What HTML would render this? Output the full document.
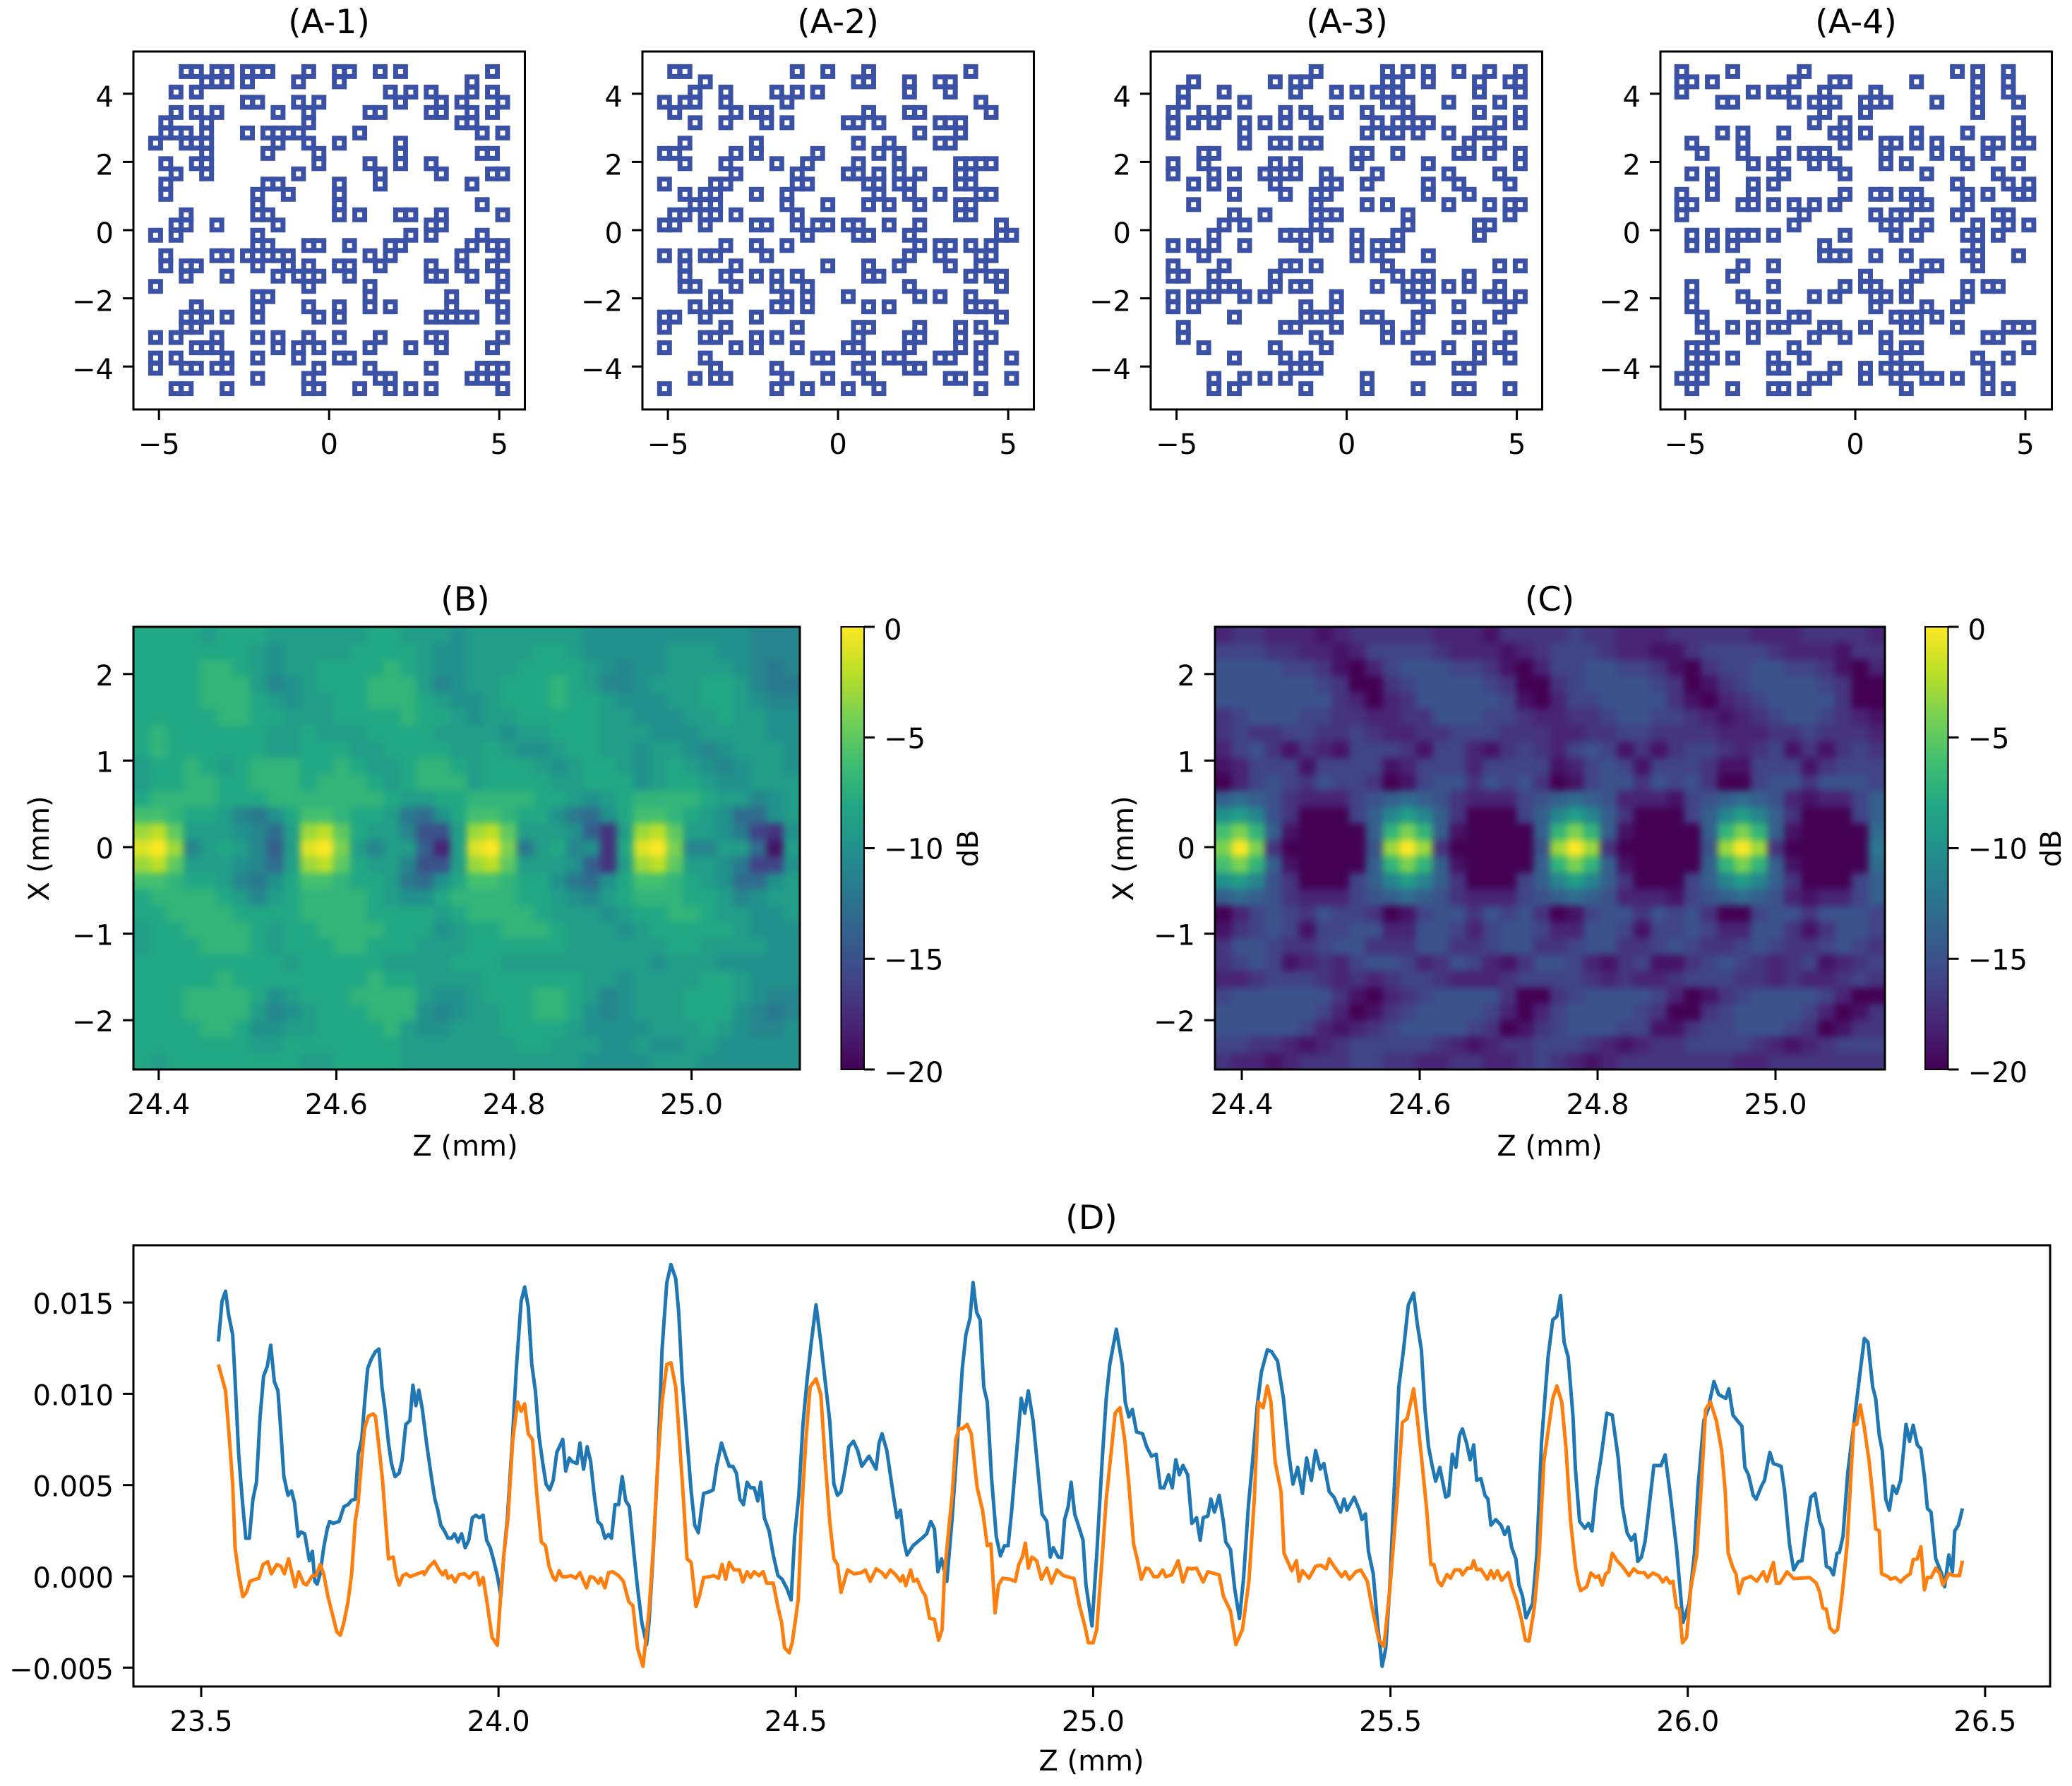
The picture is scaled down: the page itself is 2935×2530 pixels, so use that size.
<!DOCTYPE html>
<html>
<head>
<meta charset="utf-8">
<title>Sparse array patterns and field maps</title>
<style>
html,body{margin:0;padding:0;background:#fff;}
svg{display:block;}
text{font-family:"DejaVu Sans","Liberation Sans",sans-serif;fill:#000;}
.t{font-size:47.5px;text-anchor:middle;}
.l{font-size:40px;text-anchor:middle;}
</style>
</head>
<body>
<svg id="fig" xmlns="http://www.w3.org/2000/svg" width="2935" height="2530" viewBox="0 0 2935 2530">
<defs>
<filter id="smooth" x="-5%" y="-5%" width="110%" height="110%" color-interpolation-filters="sRGB"><feGaussianBlur stdDeviation="5"/></filter>
<clipPath id="clipB"><rect x="189" y="888" width="944" height="627"/></clipPath>
<clipPath id="clipC"><rect x="1721" y="888" width="949" height="627"/></clipPath>
<clipPath id="clipD"><rect x="189" y="1764" width="2715" height="625"/></clipPath>
<linearGradient id="cbar" x1="0" y1="1" x2="0" y2="0">
<stop offset="0" stop-color="#440154"/><stop offset=".1" stop-color="#482475"/><stop offset=".2" stop-color="#414487"/><stop offset=".3" stop-color="#355f8d"/><stop offset=".4" stop-color="#2a788e"/><stop offset=".5" stop-color="#21918c"/><stop offset=".6" stop-color="#22a884"/><stop offset=".7" stop-color="#44bf70"/><stop offset=".8" stop-color="#7ad151"/><stop offset=".9" stop-color="#bddf26"/><stop offset="1" stop-color="#fde725"/>
</linearGradient>
</defs>
<rect x="0" y="0" width="2935" height="2530" fill="#fff"/>
<text class="t" x="466" y="47">(A-1)</text>
<text class="t" x="1187" y="47">(A-2)</text>
<text class="t" x="1908" y="47">(A-3)</text>
<text class="t" x="2629" y="47">(A-4)</text>
<text class="t" x="659" y="865">(B)</text>
<text class="t" x="2195" y="865">(C)</text>
<text class="t" x="1546" y="1741">(D)</text>
<text class="l" x="659" y="1637">Z (mm)</text>
<text class="l" x="2195" y="1637">Z (mm)</text>
<text class="l" x="1546" y="2508">Z (mm)</text>
<text class="l" transform="translate(69 1202) rotate(-90)">X (mm)</text>
<text class="l" transform="translate(1605 1202) rotate(-90)">X (mm)</text>
<text class="l" transform="translate(1385 1202) rotate(-90)">dB</text>
<text class="l" transform="translate(2919 1202) rotate(-90)">dB</text>
</svg>
<script>
// ---------- Panels A: array element maps, listed as occupied grid columns per grid row (pitch 0.3 mm) ----------
const a1Rows=[[3,4,6,7,9,10,11,15,18,19,22,24,33],[5,6,7,9,14,18,31],[2,4,23,25,27,31,33],[9,10,14,16,24,28,30,34],[2,4,6,12,15,21,22,27,28,31,33],[1,5,15,30,31],[1,2,3,5,9,11,12,13,14,20,32,34],[0,3,4,5,12,15,18,24],[5,11,16,24,32,33],[1,4,5,16,21,24,27],[2,5,14,22,28,33,34],[1,11,12,18,22,31],[1,10,13,18],[10,18,32],[3,10,11,18,20,24,25,28,34],[2,3,6,12,27,28],[0,2,10,25,27,32],[10,11,15,16,19,23,24,31,33,34],[1,6,7,9,10,11,12,13,21,23,30,34],[1,3,4,10,13,15,18,19,22,27,30,33],[3,7,12,14,15,16,19,27,28,31,34],[0,15,21,34],[10,11,21,29,33],[4,10,15,18,21,23,29,34],[3,4,5,7,10,16,18,27,28,29,30,31,34],[3,4],[0,2,6,10,12,15,18,22,27,28,34],[4,5,6,12,14,16,21,25,28,33],[0,2,7,10,14,18,19],[0,3,4,6,7,16,21,27,32,33,34],[10,15,22,23,31,32,33],[2,3,7,15,16,20,23,25,27,34]];
const a2Rows=[[1,2,13,16,20,30],[4,19,20,24,27,28],[3,6,11,13,15,24,28],[0,2,3,6,12,31],[1,7,9,10,20,24,25,32],[3,6,10,12,18,19,21,27,28,29],[25,29],[2,9,19,22,27,28],[0,1,7,9,15,21,23],[2,6,11,14,19,23,29,30,31,32],[7,13,18,19,21,23,25,29,30],[0,5,6,13,14,20,21,23,24,29,30],[2,4,5,9,12,21,24,27,31,32],[3,4,5,12,16,20,22,25,29,30],[1,2,4,5,7,13,29,30],[0,1,4,9,10,13,15,16,18,19,22,25,33],[14,19,20,24,33,34],[6,9,12,25,27,28,30,32],[0,2,4,5,10,24,27,31,32],[2,7,16,20,23,28,31],[2,6,9,11,13,20,21,30,32,33],[2,3,7,11,14,24,33],[5,12,14,18,25,27,30],[3,5,6,11,12,14,20,22,30,31,32],[0,1,4,9,33],[0,6,13,19,20,25,29,31],[4,5,9,11,19,24,25,29,32],[0,7,9,13,18,19,24,29,31],[4,15,16,20,22,23,27,28,31,34],[5,11,19,24,25,31],[3,5,6,12,16,20,28,29,34],[0,11,14,18,21,31]];
const a3Rows=[[14,21,23,25,28,31,34],[2,10,12,13,21,22,25,30,33,34],[1,5,12,16,18,20,21,22,30,34],[1,7,21,22,23,27,32],[0,3,5,11,13,16,19,23,30,34],[0,2,4,7,9,11,14,20,22,23,24,25,32,34],[0,7,19,21,22,24,27,30,31],[7,10,11,13,14,29,32],[3,4,18,19,22,28,29,31,34],[0,3,10,12,18,25,34],[0,4,6,9,10,11,12,15,20,27,32],[2,4,10,15,16,19,25,28,33],[6,11,14,15,25,29],[2,14,19,21,27,31,33,34],[6,9,14,15,16,23,33],[5,7,14,23,30,31],[4,11,12,13,15,18,22,30],[0,2,4,7,13,18,20,21,22],[3,18,20,25],[0,5,11,12,14,21,32,34],[0,1,4,10,22,24,25,29],[4,5,6,10,12,13,20,23,24,25,27,29,32],[0,2,3,4,7,9,16,23,24,31,32,34],[0,2,13,16,25,28,33],[6,13,14,15,19,20,24,32],[1,11,12,16,21,24,28,30],[1,14,21,23,33],[3,10,15,27,30,32],[6,11,13,24,25,30,33],[12,13,14,28,29],[4,7,9,11,19],[4,6,13,19,24,28,29,33]];
const a4Rows=[[0,5,12,27,29,32],[0,1,3,11,15,16,23,29,32],[0,7,9,10,14,19,29,32],[4,5,11,13,14,15,18,19,20,25,29,33],[14,18,29],[13,16,33],[4,6,10,15,16,18,23,28,33],[1,6,16,20,21,23,25,30,31,33,34],[2,6,10,12,13,14,20,25,27,30],[7,9,13,15,20,22,28,33],[1,3,10,16,24,31],[3,7,9,27,32,34],[0,3,7,16,19,20,22,23,28,30,33,34],[0,1,6,7,9,11,13,15,23,24,28],[0,12,19,21,22,27,31,32],[11,20,21,24,29,32,34],[1,3,5,6,7,9,16,21,23,28,29,31],[1,3,5,14,29],[14,15,16,19,22,28,29,33],[6,9,24,25,29],[5,18,23],[1,9,16,18,19,22,28,30,31],[1,6,13,15,19,20,22,28],[1,7,9,19,24,27],[2,11,12,21,22,23,25],[2,5,7,9,10,14,15,18,22,23,27,32,33,34],[3,7,13,16,20,30,31],[1,2,11,20,22,23,34],[1,2,3,5,9,12,21,29,32],[1,2,9,10,15,18,20,21,22,23,30],[0,1,2,13,14,18,21,24,25,27,30],[1,5,9,10,12,22,30,32]];
const gridOriginX=-5.1, gridOriginY=4.65, gridPitch=0.3;
const aTicksX=[-5,0,5];
const aTicksY=[4,2,0,-2,-4];

// ---------- Panels B and C: field maps in dB (rows top to bottom, columns left to right) ----------
const mapTicksZ=[24.4,24.6,24.8,25.0];
const mapTicksX=[2,1,0,-1,-2];
const colorbarTicks=[0,-5,-10,-15,-20];
const mapB=[
[-8,-8,-8,-8,-9,-8,-8,-8,-9,-9,-9,-9,-9,-9,-8,-8,-9,-9,-9,-10,-9,-9,-9,-9,-9,-9,-9,-10,-10,-10,-10,-10,-10,-10,-10,-10,-10,-11,-11,-11],
[-8,-8,-8,-8,-8,-8,-8,-9,-10,-9,-9,-9,-9,-8,-8,-8,-8,-9,-10,-10,-9,-9,-9,-9,-8,-8,-9,-10,-10,-10,-10,-10,-9,-9,-9,-10,-10,-11,-11,-11],
[-8,-8,-8,-8,-7,-7,-8,-9,-10,-9,-9,-8,-8,-8,-8,-7,-8,-9,-10,-10,-9,-9,-9,-8,-8,-8,-8,-9,-10,-11,-10,-10,-9,-9,-9,-9,-10,-11,-12,-11],
[-8,-8,-8,-8,-7,-7,-7,-9,-11,-10,-9,-8,-8,-8,-7,-7,-7,-9,-11,-10,-9,-9,-8,-8,-8,-7,-8,-9,-11,-11,-10,-9,-9,-9,-8,-8,-9,-11,-12,-12],
[-8,-8,-8,-8,-7,-7,-7,-8,-9,-10,-9,-9,-8,-8,-7,-7,-7,-8,-9,-10,-10,-9,-8,-8,-8,-7,-8,-8,-9,-10,-10,-10,-9,-9,-8,-8,-9,-10,-11,-11],
[-8,-8,-8,-8,-8,-7,-7,-8,-8,-9,-9,-9,-8,-8,-8,-8,-7,-8,-8,-9,-10,-9,-9,-8,-8,-8,-8,-8,-9,-9,-10,-10,-10,-9,-9,-8,-9,-9,-10,-10],
[-8,-7,-8,-8,-8,-8,-8,-8,-9,-9,-8,-9,-9,-9,-8,-8,-8,-8,-9,-9,-9,-9,-10,-9,-9,-8,-8,-8,-9,-9,-9,-10,-10,-10,-9,-9,-9,-9,-10,-10],
[-8,-7,-8,-8,-8,-8,-8,-8,-9,-9,-8,-8,-8,-9,-9,-8,-8,-8,-8,-9,-9,-8,-9,-10,-10,-9,-8,-8,-9,-9,-10,-9,-9,-10,-11,-10,-9,-9,-9,-10],
[-9,-8,-8,-7,-8,-9,-8,-7,-7,-7,-8,-8,-7,-8,-9,-9,-8,-7,-7,-8,-9,-8,-8,-8,-9,-10,-9,-8,-8,-9,-10,-9,-8,-9,-10,-11,-10,-9,-9,-10],
[-9,-8,-8,-7,-7,-8,-8,-7,-7,-7,-8,-7,-7,-7,-8,-9,-8,-7,-7,-7,-9,-8,-8,-8,-8,-9,-9,-8,-8,-8,-10,-9,-8,-8,-9,-10,-10,-9,-9,-9],
[-8,-7,-7,-7,-7,-8,-8,-8,-7,-7,-7,-7,-7,-7,-7,-8,-9,-9,-8,-8,-7,-7,-7,-7,-8,-8,-9,-10,-9,-8,-7,-7,-7,-7,-8,-9,-9,-11,-10,-9],
[-6,-6,-7,-8,-8,-9,-11,-12,-10,-8,-6,-6,-7,-8,-8,-9,-12,-13,-10,-8,-6,-6,-7,-8,-8,-10,-12,-13,-10,-8,-6,-6,-7,-8,-9,-10,-13,-13,-10,-9],
[-3,-2,-5,-9,-9,-9,-10,-11,-13,-9,-3,-2,-5,-8,-9,-9,-11,-15,-15,-9,-3,-2,-5,-9,-9,-9,-10,-14,-17,-9,-3,-2,-5,-9,-9,-10,-12,-16,-17,-10],
[-1,0,-3,-11,-9,-8,-9,-11,-14,-9,-1,0,-4,-9,-11,-9,-9,-14,-18,-9,-1,0,-4,-12,-9,-8,-11,-10,-17,-8,-1,0,-4,-11,-11,-9,-9,-13,-19,-9],
[-3,-2,-5,-9,-9,-9,-10,-11,-13,-9,-3,-2,-5,-8,-9,-9,-11,-15,-15,-9,-3,-2,-5,-9,-9,-9,-10,-14,-17,-9,-3,-2,-5,-9,-9,-10,-12,-16,-16,-10],
[-6,-6,-7,-8,-8,-9,-11,-12,-10,-8,-6,-6,-7,-8,-8,-9,-12,-13,-10,-8,-6,-6,-7,-8,-8,-10,-12,-13,-10,-8,-6,-6,-7,-8,-9,-10,-13,-13,-10,-9],
[-8,-7,-7,-7,-7,-8,-9,-11,-9,-8,-7,-7,-7,-7,-8,-9,-10,-10,-8,-7,-7,-7,-7,-8,-8,-9,-10,-11,-9,-8,-7,-7,-7,-8,-8,-9,-11,-10,-9,-9],
[-8,-8,-7,-7,-7,-7,-8,-8,-8,-8,-7,-7,-7,-7,-8,-8,-8,-8,-9,-8,-7,-7,-7,-7,-8,-9,-9,-9,-10,-9,-8,-8,-7,-7,-8,-9,-9,-10,-10,-9],
[-9,-8,-8,-7,-7,-7,-7,-8,-9,-8,-8,-7,-7,-7,-7,-8,-8,-8,-10,-9,-8,-8,-7,-7,-7,-8,-9,-9,-9,-10,-9,-8,-8,-8,-8,-8,-9,-10,-10,-10],
[-9,-8,-8,-8,-7,-7,-7,-8,-9,-8,-8,-8,-7,-7,-8,-8,-8,-9,-9,-9,-8,-8,-8,-8,-8,-8,-9,-9,-9,-9,-9,-9,-8,-8,-9,-9,-9,-9,-10,-10],
[-8,-8,-8,-8,-8,-8,-8,-8,-8,-9,-8,-8,-8,-8,-8,-9,-9,-9,-9,-8,-8,-8,-9,-9,-9,-9,-9,-9,-9,-9,-9,-10,-9,-9,-9,-10,-10,-10,-10,-10],
[-8,-8,-8,-8,-8,-7,-8,-8,-8,-8,-8,-8,-8,-8,-7,-8,-8,-9,-9,-9,-9,-8,-8,-8,-8,-8,-8,-9,-9,-10,-9,-9,-9,-9,-8,-8,-9,-10,-10,-10],
[-8,-8,-8,-7,-7,-7,-7,-8,-10,-9,-8,-8,-8,-7,-7,-7,-7,-9,-10,-10,-9,-8,-8,-8,-7,-7,-8,-9,-11,-10,-9,-9,-9,-8,-8,-8,-9,-10,-11,-11],
[-8,-8,-8,-7,-7,-7,-7,-9,-11,-10,-9,-8,-8,-8,-7,-7,-7,-10,-11,-10,-9,-9,-8,-8,-7,-7,-8,-10,-11,-10,-9,-9,-9,-8,-8,-8,-10,-11,-12,-11],
[-8,-8,-8,-8,-7,-7,-8,-10,-10,-9,-9,-8,-8,-8,-8,-7,-9,-10,-10,-9,-9,-9,-8,-8,-8,-8,-9,-10,-10,-10,-10,-9,-9,-9,-8,-9,-10,-11,-11,-10],
[-8,-8,-8,-8,-8,-8,-8,-9,-9,-8,-8,-8,-8,-8,-8,-8,-9,-9,-9,-9,-9,-9,-9,-8,-8,-9,-9,-9,-10,-10,-9,-10,-10,-9,-9,-10,-10,-10,-10,-10],
[-8,-9,-8,-8,-8,-8,-8,-8,-8,-8,-9,-9,-8,-8,-8,-8,-9,-9,-9,-9,-9,-9,-9,-9,-9,-9,-9,-10,-10,-10,-10,-9,-9,-9,-10,-10,-10,-10,-10,-10]
];
const mapC=[
[-18,-17,-17,-18,-18,-18,-19,-18,-17,-17,-17,-17,-17,-18,-18,-18,-19,-17,-17,-17,-17,-16,-17,-17,-18,-18,-18,-17,-17,-17,-17,-17,-18,-18,-18,-17,-17,-17,-17,-18],
[-16,-16,-16,-17,-17,-18,-18,-19,-18,-16,-16,-16,-16,-17,-18,-18,-18,-19,-18,-17,-16,-16,-16,-17,-18,-18,-19,-19,-17,-16,-16,-16,-16,-17,-18,-18,-18,-19,-17,-17],
[-15,-15,-15,-15,-16,-16,-17,-19,-20,-18,-16,-15,-15,-15,-16,-16,-17,-19,-20,-18,-16,-16,-15,-15,-16,-16,-17,-19,-20,-17,-16,-16,-15,-15,-16,-16,-17,-19,-20,-18],
[-15,-15,-15,-15,-15,-15,-16,-17,-20,-20,-17,-16,-15,-15,-15,-15,-16,-17,-20,-20,-17,-16,-15,-15,-15,-15,-16,-17,-20,-19,-17,-16,-15,-15,-15,-15,-16,-17,-20,-20],
[-15,-15,-15,-15,-15,-15,-15,-17,-18,-20,-18,-17,-15,-15,-15,-15,-15,-16,-19,-20,-18,-16,-16,-15,-15,-15,-15,-17,-19,-20,-18,-17,-16,-15,-15,-15,-15,-17,-20,-20],
[-17,-16,-15,-15,-15,-16,-16,-17,-17,-18,-18,-17,-17,-15,-15,-15,-16,-16,-17,-18,-18,-17,-17,-16,-15,-15,-16,-16,-17,-18,-19,-18,-17,-16,-15,-15,-16,-17,-18,-19],
[-17,-16,-17,-17,-16,-16,-17,-17,-16,-17,-18,-18,-17,-17,-16,-16,-16,-17,-17,-17,-18,-18,-17,-17,-16,-16,-17,-17,-17,-17,-18,-18,-18,-17,-17,-16,-17,-17,-17,-18],
[-18,-16,-15,-17,-19,-17,-18,-19,-16,-16,-16,-17,-19,-16,-16,-18,-19,-17,-16,-17,-18,-16,-15,-16,-19,-17,-19,-17,-16,-16,-17,-18,-17,-16,-19,-17,-19,-17,-16,-17],
[-19,-18,-16,-16,-16,-19,-16,-16,-16,-16,-19,-18,-16,-16,-16,-18,-16,-16,-16,-16,-19,-18,-16,-15,-16,-19,-16,-16,-16,-17,-19,-19,-16,-16,-16,-19,-17,-16,-16,-16],
[-20,-18,-16,-15,-16,-17,-15,-16,-16,-17,-20,-19,-16,-15,-15,-17,-15,-16,-15,-17,-20,-19,-16,-15,-15,-17,-15,-16,-15,-17,-20,-20,-16,-15,-15,-17,-15,-15,-15,-16],
[-14,-13,-14,-15,-17,-18,-18,-18,-16,-15,-14,-13,-14,-15,-17,-18,-18,-18,-16,-15,-14,-13,-14,-15,-18,-18,-18,-19,-16,-15,-14,-13,-14,-15,-18,-19,-18,-18,-16,-14],
[-10,-9,-11,-15,-17,-20,-20,-20,-16,-14,-11,-9,-11,-14,-17,-20,-20,-20,-16,-14,-11,-9,-11,-14,-17,-20,-20,-20,-16,-14,-11,-9,-11,-14,-17,-20,-20,-20,-16,-14],
[-6,-4,-7,-14,-19,-20,-20,-20,-20,-14,-7,-4,-7,-14,-19,-20,-20,-20,-20,-14,-7,-4,-7,-14,-19,-20,-20,-20,-20,-14,-7,-4,-7,-14,-19,-20,-20,-20,-20,-13],
[-4,0,-4,-17,-20,-20,-20,-20,-20,-15,-3,0,-3,-17,-20,-20,-20,-20,-20,-15,-3,0,-3,-17,-20,-20,-20,-20,-20,-15,-3,0,-3,-17,-20,-20,-20,-20,-20,-12],
[-6,-4,-7,-14,-19,-20,-20,-20,-20,-14,-7,-4,-7,-14,-19,-20,-20,-20,-20,-14,-7,-4,-7,-14,-19,-20,-20,-20,-20,-14,-7,-4,-7,-14,-19,-20,-20,-20,-20,-13],
[-10,-9,-11,-15,-17,-20,-20,-20,-16,-14,-11,-9,-11,-14,-17,-20,-20,-20,-16,-14,-11,-9,-11,-14,-17,-20,-20,-20,-16,-14,-11,-9,-11,-14,-17,-20,-20,-20,-16,-14],
[-14,-13,-14,-15,-17,-18,-18,-18,-16,-15,-14,-13,-14,-15,-17,-18,-18,-18,-16,-15,-14,-13,-14,-15,-18,-18,-18,-19,-16,-15,-14,-13,-14,-15,-18,-19,-18,-18,-16,-14],
[-20,-18,-16,-15,-16,-17,-15,-16,-16,-17,-20,-19,-16,-15,-15,-17,-15,-16,-15,-17,-20,-19,-16,-15,-15,-17,-15,-16,-15,-17,-20,-20,-16,-15,-15,-17,-15,-15,-15,-16],
[-19,-17,-16,-15,-16,-19,-16,-16,-15,-15,-18,-18,-15,-15,-16,-18,-16,-15,-15,-16,-18,-18,-15,-15,-16,-19,-16,-16,-15,-16,-18,-18,-15,-15,-17,-19,-17,-15,-15,-16],
[-17,-15,-15,-16,-17,-17,-16,-15,-15,-17,-17,-17,-15,-15,-17,-17,-16,-15,-15,-17,-17,-16,-15,-15,-17,-17,-16,-15,-16,-17,-17,-16,-15,-16,-17,-17,-16,-15,-16,-17],
[-17,-16,-15,-16,-19,-18,-17,-18,-16,-15,-15,-16,-18,-17,-15,-16,-18,-19,-17,-15,-15,-16,-18,-19,-17,-16,-19,-19,-17,-16,-15,-16,-17,-18,-17,-16,-19,-18,-17,-16],
[-18,-18,-17,-16,-16,-16,-17,-18,-17,-18,-17,-16,-16,-17,-18,-18,-18,-17,-16,-16,-16,-16,-17,-18,-17,-18,-18,-17,-16,-16,-16,-17,-17,-18,-17,-18,-18,-17,-16,-17],
[-16,-15,-15,-15,-15,-15,-15,-17,-19,-20,-18,-17,-16,-15,-15,-15,-15,-17,-20,-20,-17,-16,-15,-15,-15,-15,-16,-18,-20,-19,-17,-16,-15,-15,-15,-15,-16,-18,-20,-20],
[-15,-15,-15,-15,-15,-15,-16,-18,-20,-19,-17,-16,-15,-15,-15,-15,-16,-18,-20,-18,-16,-15,-15,-15,-15,-16,-17,-20,-20,-17,-16,-15,-15,-15,-15,-16,-18,-20,-19,-17],
[-15,-15,-15,-15,-15,-16,-18,-19,-18,-17,-16,-15,-15,-15,-15,-16,-17,-20,-19,-17,-16,-15,-15,-15,-16,-16,-19,-19,-17,-16,-16,-15,-15,-15,-16,-17,-20,-19,-17,-17],
[-16,-16,-17,-17,-18,-19,-18,-17,-16,-16,-16,-16,-16,-17,-18,-19,-18,-17,-17,-16,-16,-16,-17,-18,-19,-18,-17,-17,-16,-16,-16,-16,-17,-18,-19,-18,-17,-16,-16,-16],
[-17,-18,-18,-19,-18,-17,-17,-17,-16,-16,-17,-17,-18,-18,-17,-17,-18,-18,-17,-16,-17,-18,-19,-18,-17,-17,-17,-17,-17,-17,-17,-18,-18,-17,-17,-17,-17,-17,-17,-17]
];

// ---------- Panel D: traces as [z offset from 23.5 in 0.001 mm, amplitude in 1e-5] ----------
const traceTicksZ=[23.5,24.0,24.5,25.0,25.5,26.0,26.5];
const traceTicksV=[0.015,0.010,0.005,0.000,-0.005];
const traceOriginZ=23.5;
const blueTrace=[[29,1286],[35,1507],[41,1562],[46,1436],[53,1323],[57,1078],[63,669],[69,423],[75,209],[81,209],[87,423],[93,515],[99,873],[105,1098],[111,1149],[117,1266],[123,1067],[129,1016],[134,791],[139,546],[146,444],[152,468],[157,403],[163,219],[168,243],[174,233],[182,86],[187,137],[191,-27],[195,-43],[200,14],[206,157],[212,260],[216,301],[222,290],[232,301],[240,382],[247,393],[253,417],[259,423],[264,669],[270,750],[275,955],[280,1139],[286,1190],[293,1231],[299,1245],[304,1037],[309,914],[315,730],[320,618],[326,546],[333,566],[338,638],[344,832],[351,853],[356,1047],[361,935],[366,1020],[372,914],[379,730],[387,546],[393,423],[398,362],[403,280],[409,249],[415,209],[421,209],[426,233],[432,188],[438,233],[444,157],[450,198],[456,321],[462,335],[468,321],[474,335],[480,198],[486,157],[492,86],[498,4],[504,-108],[509,117],[515,321],[523,730],[530,1139],[538,1507],[544,1585],[550,1476],[556,1160],[562,1016],[568,771],[574,628],[580,505],[586,474],[592,526],[598,679],[604,720],[608,750],[613,577],[619,648],[624,628],[632,618],[637,730],[643,587],[649,710],[655,628],[661,444],[667,301],[673,280],[679,209],[685,229],[690,209],[696,393],[702,393],[708,546],[714,413],[720,382],[728,117],[734,-67],[741,-252],[749,-374],[753,-252],[760,117],[768,628],[775,1241],[783,1609],[790,1708],[798,1630],[803,1446],[809,1078],[817,750],[824,464],[830,280],[836,239],[841,362],[845,454],[855,464],[861,474],[867,607],[875,730],[883,648],[888,603],[894,603],[900,566],[906,423],[912,393],[918,515],[924,485],[930,485],[936,413],[941,515],[947,321],[955,249],[962,117],[970,4],[977,-16],[985,-67],[992,-129],[998,219],[1005,444],[1012,832],[1019,1078],[1026,1282],[1034,1487],[1042,1282],[1049,1078],[1057,853],[1064,505],[1070,444],[1076,464],[1083,587],[1089,710],[1097,740],[1104,689],[1111,603],[1123,658],[1135,587],[1140,730],[1145,781],[1153,689],[1159,556],[1165,423],[1170,321],[1176,362],[1182,188],[1187,117],[1197,168],[1212,209],[1220,233],[1227,301],[1233,260],[1239,25],[1245,96],[1254,-27],[1263,321],[1273,791],[1280,1139],[1286,1323],[1293,1415],[1298,1609],[1304,1446],[1310,1405],[1316,1037],[1322,955],[1329,546],[1337,219],[1344,112],[1351,168],[1357,168],[1363,362],[1371,669],[1379,975],[1385,894],[1391,1016],[1399,853],[1407,587],[1414,342],[1422,301],[1428,106],[1433,157],[1441,106],[1447,102],[1452,311],[1458,382],[1463,515],[1469,342],[1477,260],[1483,198],[1488,-47],[1498,-272],[1506,117],[1515,628],[1522,975],[1528,1160],[1539,1354],[1549,1160],[1554,955],[1560,873],[1566,914],[1573,791],[1583,781],[1590,710],[1598,658],[1606,669],[1613,485],[1619,485],[1627,556],[1633,485],[1639,638],[1645,556],[1651,607],[1659,556],[1666,290],[1674,321],[1680,198],[1685,321],[1693,331],[1698,423],[1704,352],[1712,444],[1719,301],[1723,188],[1731,147],[1738,-67],[1746,-231],[1753,-6],[1761,382],[1768,628],[1776,935],[1783,1119],[1793,1241],[1800,1231],[1810,1180],[1820,975],[1829,669],[1836,505],[1844,597],[1852,454],[1859,648],[1867,526],[1874,689],[1882,587],[1888,618],[1897,464],[1905,434],[1916,352],[1922,423],[1927,362],[1939,434],[1948,362],[1952,311],[1958,342],[1963,137],[1971,14],[1978,-252],[1986,-493],[1992,-395],[1999,-47],[2007,526],[2014,1037],[2022,1241],[2030,1487],[2039,1552],[2045,1385],[2052,1241],[2058,914],[2064,710],[2070,607],[2076,521],[2083,597],[2093,434],[2098,444],[2104,669],[2110,597],[2116,771],[2121,808],[2128,730],[2134,638],[2140,720],[2145,526],[2152,536],[2159,444],[2164,423],[2169,280],[2177,311],[2186,280],[2192,229],[2198,270],[2204,157],[2211,96],[2216,-47],[2222,-108],[2228,-227],[2239,-149],[2246,117],[2254,730],[2265,1200],[2273,1405],[2280,1425],[2286,1538],[2292,1282],[2299,1200],[2307,873],[2311,587],[2318,301],[2327,264],[2333,290],[2339,249],[2346,485],[2354,648],[2364,894],[2373,883],[2383,648],[2390,382],[2398,239],[2405,198],[2411,229],[2416,82],[2422,106],[2428,188],[2434,352],[2443,607],[2455,607],[2462,665],[2470,464],[2481,157],[2492,-252],[2502,-149],[2511,117],[2517,485],[2527,853],[2534,914],[2544,1067],[2552,996],[2564,975],[2569,1027],[2576,883],[2591,822],[2596,597],[2602,556],[2610,444],[2615,423],[2624,495],[2629,526],[2638,679],[2644,618],[2657,603],[2663,464],[2671,178],[2678,35],[2686,80],[2692,86],[2699,260],[2707,434],[2714,454],[2722,301],[2727,260],[2733,55],[2739,45],[2745,8],[2751,127],[2755,131],[2761,219],[2769,566],[2780,853],[2789,1098],[2797,1303],[2803,1282],[2811,1037],[2816,975],[2822,771],[2827,689],[2833,423],[2839,362],[2845,495],[2851,454],[2858,526],[2867,832],[2873,740],[2879,828],[2886,720],[2892,699],[2898,546],[2903,372],[2909,352],[2917,96],[2927,14],[2932,-57],[2939,117],[2945,25],[2949,249],[2955,280],[2962,372]];
const orangeTrace=[[29,1160],[35,1088],[41,1016],[48,730],[53,505],[57,157],[63,14],[70,-112],[76,-88],[82,-27],[89,-18],[97,-10],[104,65],[112,80],[118,14],[127,65],[134,55],[140,14],[147,96],[153,14],[158,-57],[164,25],[172,-37],[177,-47],[187,4],[193,4],[200,65],[206,14],[213,-108],[221,-211],[228,-303],[234,-323],[240,-252],[247,-139],[253,14],[259,301],[264,403],[270,648],[275,812],[281,877],[289,890],[293,877],[299,710],[305,526],[311,260],[315,96],[323,106],[328,4],[333,-47],[339,4],[345,14],[351,-2],[364,14],[373,25],[375,10],[383,51],[392,82],[400,35],[406,8],[411,31],[415,-10],[421,4],[427,-31],[434,10],[443,14],[451,-10],[458,18],[464,18],[468,-47],[474,-6],[481,-149],[489,-333],[498,-378],[504,-88],[509,117],[516,321],[524,750],[532,955],[538,904],[544,945],[550,781],[557,750],[564,464],[572,188],[579,168],[585,55],[592,-6],[596,-22],[602,31],[607,-2],[615,-2],[622,4],[630,-10],[637,20],[643,-27],[648,-63],[654,-2],[660,-6],[668,-37],[672,-10],[679,-63],[685,20],[692,25],[702,4],[710,-27],[719,-139],[726,-160],[734,-395],[743,-493],[753,-190],[760,137],[768,628],[775,955],[783,1160],[790,1170],[798,1037],[805,710],[811,423],[817,96],[824,76],[832,-166],[838,-108],[845,-6],[855,-2],[862,4],[870,-10],[876,65],[882,-16],[888,76],[896,35],[905,35],[911,-31],[918,25],[924,-6],[930,25],[938,4],[945,25],[951,-37],[962,-37],[970,-170],[976,-252],[981,-391],[989,-419],[994,-364],[1004,-129],[1011,423],[1017,750],[1024,1037],[1034,1082],[1042,996],[1049,648],[1057,301],[1064,96],[1070,65],[1076,-88],[1087,35],[1098,14],[1110,20],[1117,35],[1125,-27],[1135,41],[1145,20],[1151,-6],[1159,35],[1168,8],[1176,-27],[1180,4],[1185,-51],[1193,35],[1198,-27],[1204,-16],[1212,-78],[1218,-108],[1225,-231],[1233,-235],[1240,-350],[1246,-292],[1250,14],[1256,219],[1263,444],[1269,750],[1275,812],[1280,808],[1288,832],[1295,781],[1305,485],[1314,362],[1322,168],[1328,178],[1335,-200],[1341,-47],[1348,-10],[1360,-16],[1369,-27],[1375,65],[1381,106],[1386,182],[1391,45],[1397,106],[1405,86],[1413,-16],[1422,45],[1430,-37],[1439,35],[1450,4],[1468,-12],[1477,-160],[1486,-272],[1492,-364],[1500,-364],[1506,-292],[1515,96],[1522,423],[1530,669],[1537,894],[1545,924],[1553,750],[1560,505],[1568,178],[1574,96],[1581,-16],[1589,45],[1594,41],[1602,-2],[1609,-2],[1617,35],[1622,-2],[1632,8],[1643,86],[1651,-31],[1659,45],[1666,41],[1674,45],[1685,-31],[1693,25],[1712,8],[1719,-108],[1731,-190],[1740,-374],[1751,-292],[1762,-27],[1771,423],[1778,955],[1786,924],[1793,1043],[1799,955],[1806,628],[1816,464],[1821,127],[1834,31],[1842,86],[1846,-27],[1852,31],[1863,-10],[1874,55],[1883,61],[1892,41],[1897,96],[1905,55],[1918,-2],[1924,25],[1931,-16],[1942,25],[1950,35],[1961,-27],[1969,-170],[1980,-344],[1989,-384],[1999,-67],[2011,423],[2020,843],[2028,863],[2039,1027],[2045,873],[2053,628],[2061,362],[2068,65],[2073,65],[2080,-27],[2086,-51],[2095,10],[2101,-10],[2108,35],[2117,35],[2121,8],[2129,45],[2136,45],[2140,86],[2145,35],[2152,39],[2163,-16],[2169,31],[2174,-10],[2180,31],[2187,-22],[2198,20],[2205,-67],[2212,-129],[2220,-231],[2227,-350],[2233,-354],[2242,-170],[2250,117],[2258,628],[2265,791],[2273,975],[2280,1043],[2288,955],[2295,710],[2303,301],[2311,55],[2316,-37],[2320,-78],[2330,-57],[2337,18],[2345,-6],[2350,4],[2356,-47],[2362,14],[2367,25],[2373,127],[2381,86],[2390,55],[2401,4],[2409,41],[2417,20],[2427,20],[2433,-6],[2441,18],[2451,4],[2458,-31],[2464,-6],[2470,-37],[2475,-27],[2481,-170],[2486,-180],[2491,-364],[2498,-333],[2505,-67],[2515,117],[2523,505],[2530,914],[2538,955],[2548,853],[2557,689],[2563,464],[2568,127],[2576,45],[2581,14],[2586,-94],[2593,-16],[2606,0],[2616,-27],[2627,25],[2633,-27],[2644,76],[2649,-37],[2655,-37],[2667,25],[2678,-12],[2705,-6],[2716,-37],[2722,-88],[2727,-174],[2733,-180],[2739,-282],[2746,-307],[2752,-292],[2760,-88],[2768,178],[2774,526],[2779,832],[2784,832],[2790,939],[2797,812],[2805,628],[2811,444],[2816,260],[2822,249],[2826,14],[2837,-2],[2841,-16],[2849,-6],[2858,-31],[2865,-6],[2874,14],[2879,92],[2886,96],[2892,162],[2898,-74],[2903,-6],[2909,-6],[2917,45],[2924,14],[2929,-47],[2939,14],[2947,4],[2957,4],[2962,86]];

// ---------- Drawing ----------
const SVGNS='http://www.w3.org/2000/svg';
const fig=document.getElementById('fig');
function add(parent,tag,attrs){
  const el=document.createElementNS(SVGNS,tag);
  for(const k in attrs){el.setAttribute(k,attrs[k]);}
  parent.appendChild(el);
  return el;
}
function minus(s){return String(s).replace('-','\u2212');}
function xTick(parent,px,bottom,label){
  const t=add(parent,'line',{x1:px,x2:px,y1:bottom,y2:bottom+15,stroke:'#000','stroke-width':3});
  
  
  const l=add(parent,'text',{x:px,y:bottom+63,'font-size':40,'text-anchor':'middle'});
  l.textContent=minus(label);
  
  
}
function yTick(parent,px,left,label,drop){
  const t=add(parent,'line',{x1:left-15,x2:left,y1:px,y2:px,stroke:'#000','stroke-width':3});
  
  
  const l=add(parent,'text',{x:left-28,y:px+drop,'font-size':40,'text-anchor':'end'});
  l.textContent=minus(label);
  
  
}
function frame(parent,x,y,w,h,name){
  const f=add(parent,'rect',{x:x,y:y,width:w,height:h,fill:'none',stroke:'#000','stroke-width':3});
  
  
}

// Panels A
[{rows:a1Rows,left:189,cx:466.2,name:'a1'},{rows:a2Rows,left:910,cx:1187.1,name:'a2'},{rows:a3Rows,left:1630,cx:1907.6,name:'a3'},{rows:a4Rows,left:2352,cx:2628,name:'a4'}].forEach(p=>{
  const top=73,bottom=580,cy=326,ppmX=48.2,ppmY=48.3;
  const xScale=v=>p.cx+v*ppmX;
  const yScale=v=>cy-v*ppmY;
  const g=add(fig,'g',{});
  
  
  p.rows.forEach((cols,r)=>{
    cols.forEach(c=>{
      const px=xScale(gridOriginX+gridPitch*c), py=yScale(gridOriginY-gridPitch*r);
      const m=add(g,'rect',{x:px-7,y:py-7,width:14,height:14,fill:'none',stroke:'#3b51a5','stroke-width':7});
      
      
    });
  });
  frame(g,p.left,top,554.5,bottom-top,'axes-frame-'+p.name);
  aTicksX.forEach(v=>xTick(g,xScale(v),bottom,v));
  aTicksY.forEach(v=>yTick(g,yScale(v),p.left,v,18));
});

// Panels B and C
const viridis=[[68,1,84],[72,36,117],[65,68,135],[53,95,141],[42,120,142],[33,145,140],[34,168,132],[68,191,112],[122,209,81],[189,223,38],[253,231,37]];
function dbColor(v){
  const t=Math.max(0,Math.min(1,(v+20)/20))*10;
  const i=Math.min(9,Math.floor(t)), f=t-i;
  const c=viridis[i].map((a,k)=>Math.round(a+(viridis[i+1][k]-a)*f));
  return 'rgb('+c.join(',')+')';
}
[{map:mapB,left:189,width:944,z24:224.8,cbLeft:1191.5,clip:'clipB',name:'b'},{map:mapC,left:1721,width:949,z24:1759,cbLeft:2727,clip:'clipC',name:'c'}].forEach(p=>{
  const top=888,bottom=1515,h=bottom-top;
  const ppmZ=p.name==='b'?1258:1260;
  const xScale=z=>p.z24+(z-24.4)*ppmZ;
  const yScale=x=>1200-x*122.6;
  const cbScale=d=>top-d*(h/20);
  const g=add(fig,'g',{});
  
  
  const clip=add(g,'g',{'clip-path':'url(#'+p.clip+')'});
  const blur=add(clip,'g',{filter:'url(#smooth)','shape-rendering':'crispEdges'});
  
  
  const nr=p.map.length,nc=p.map[0].length,cw=p.width/nc,ch=h/nr,pad=40;
  p.map.forEach((row,r)=>{
    row.forEach((v,c)=>{
      const x0=p.left+c*cw-(c===0?pad:0), x1=p.left+(c+1)*cw+(c===nc-1?pad:0);
      const y0=top+r*ch-(r===0?pad:0), y1=top+(r+1)*ch+(r===nr-1?pad:0);
      const cell=add(blur,'rect',{x:x0,y:y0,width:x1-x0+.5,height:y1-y0+.5,fill:dbColor(v)});
      
      
    });
  });
  frame(g,p.left,top,p.width,h,'axes-frame-'+p.name);
  mapTicksZ.forEach(z=>xTick(g,xScale(z),bottom,z.toFixed(1)));
  mapTicksX.forEach(x=>yTick(g,yScale(x),p.left,x,16));
  const cb=add(g,'rect',{x:p.cbLeft,y:top,width:32.5,height:h,fill:'url(#cbar)',stroke:'#000','stroke-width':2});
  
  
  colorbarTicks.forEach(d=>{
    const py=cbScale(d),rx=p.cbLeft+32.5;
    const t=add(g,'line',{x1:rx,x2:rx+15,y1:py,y2:py,stroke:'#000','stroke-width':3});
    
    
    const l=add(g,'text',{x:rx+28,y:py+15+(d===0?3:d===-20?3:0),'font-size':40,'text-anchor':'start'});
    l.textContent=minus(d);
    
    
  });
});

// Panel D
(function(){
  const left=189,right=2904,top=1764,bottom=2389;
  const xScale=z=>285+(z-23.5)*842.3;
  const yScale=v=>2233-v*25860;
  const g=add(fig,'g',{});
  
  
  const lines=add(g,'g',{'clip-path':'url(#clipD)'});
  [[blueTrace,'#1f77b4','blue-trace'],[orangeTrace,'#ff7f0e','orange-trace']].forEach(s=>{
    const pts=s[0].map(p=>xScale(traceOriginZ+p[0]/1000).toFixed(1)+','+yScale(p[1]*1e-5).toFixed(1)).join(' ');
    const pl=add(lines,'polyline',{points:pts,fill:'none',stroke:s[1],'stroke-width':5,'stroke-linejoin':'round','stroke-linecap':'butt'});
    
    
  });
  frame(g,left,top,right-left,bottom-top,'axes-frame-d');
  traceTicksZ.forEach(z=>xTick(g,xScale(z),bottom,z.toFixed(1)));
  traceTicksV.forEach(v=>yTick(g,yScale(v),left,v.toFixed(3),16));
})();
</script>
</body>
</html>
